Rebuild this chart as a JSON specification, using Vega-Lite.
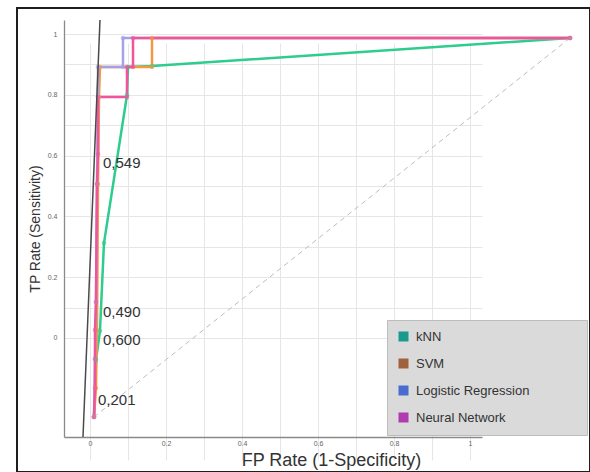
{
  "$schema": "https://vega.github.io/schema/vega-lite/v6.json",
  "width": 573,
  "height": 464,
  "autosize": {"type": "none"},
  "padding": {"left": 17, "top": 8, "right": 0, "bottom": 0},
  "background": "white",
  "config": {
    "view": {"stroke": "#1e1e1e", "strokeWidth": 2},
    "font": "Liberation Sans"
  },
  "datasets": {
    "curves": [
      {"model": "kNN", "i": 0, "fpr": 0.0105, "tpr": -0.2599},
      {"model": "kNN", "i": 1, "fpr": 0.0158, "tpr": -0.0724},
      {"model": "kNN", "i": 2, "fpr": 0.0263, "tpr": 0.023},
      {"model": "kNN", "i": 3, "fpr": 0.0368, "tpr": 0.3125},
      {"model": "kNN", "i": 4, "fpr": 0.0974, "tpr": 0.7993},
      {"model": "kNN", "i": 5, "fpr": 0.1, "tpr": 0.8914},
      {"model": "kNN", "i": 6, "fpr": 0.1632, "tpr": 0.8947},
      {"model": "kNN", "i": 7, "fpr": 1.2632, "tpr": 0.9868},
      {"model": "SVM", "i": 0, "fpr": 0.0105, "tpr": -0.2599},
      {"model": "SVM", "i": 1, "fpr": 0.0158, "tpr": -0.1645},
      {"model": "SVM", "i": 2, "fpr": 0.0184, "tpr": 0.0263},
      {"model": "SVM", "i": 3, "fpr": 0.0211, "tpr": 0.5066},
      {"model": "SVM", "i": 4, "fpr": 0.0237, "tpr": 0.7928},
      {"model": "SVM", "i": 5, "fpr": 0.0263, "tpr": 0.8914},
      {"model": "SVM", "i": 6, "fpr": 0.1632, "tpr": 0.8914},
      {"model": "SVM", "i": 7, "fpr": 0.1632, "tpr": 0.9868},
      {"model": "SVM", "i": 8, "fpr": 1.2632, "tpr": 0.9868},
      {"model": "Logistic Regression", "i": 0, "fpr": 0.0105, "tpr": -0.2599},
      {"model": "Logistic Regression", "i": 1, "fpr": 0.0132, "tpr": -0.0691},
      {"model": "Logistic Regression", "i": 2, "fpr": 0.0158, "tpr": 0.1184},
      {"model": "Logistic Regression", "i": 3, "fpr": 0.0184, "tpr": 0.5066},
      {"model": "Logistic Regression", "i": 4, "fpr": 0.0211, "tpr": 0.7928},
      {"model": "Logistic Regression", "i": 5, "fpr": 0.0211, "tpr": 0.8914},
      {"model": "Logistic Regression", "i": 6, "fpr": 0.0868, "tpr": 0.8914},
      {"model": "Logistic Regression", "i": 7, "fpr": 0.0868, "tpr": 0.9868},
      {"model": "Logistic Regression", "i": 8, "fpr": 1.2632, "tpr": 0.9868},
      {"model": "Neural Network", "i": 0, "fpr": 0.0105, "tpr": -0.2599},
      {"model": "Neural Network", "i": 1, "fpr": 0.0132, "tpr": -0.1645},
      {"model": "Neural Network", "i": 2, "fpr": 0.0132, "tpr": -0.0691},
      {"model": "Neural Network", "i": 3, "fpr": 0.0132, "tpr": 0.0263},
      {"model": "Neural Network", "i": 4, "fpr": 0.0158, "tpr": 0.1184},
      {"model": "Neural Network", "i": 5, "fpr": 0.0184, "tpr": 0.5066},
      {"model": "Neural Network", "i": 6, "fpr": 0.0211, "tpr": 0.6053},
      {"model": "Neural Network", "i": 7, "fpr": 0.0211, "tpr": 0.7928},
      {"model": "Neural Network", "i": 8, "fpr": 0.0974, "tpr": 0.7928},
      {"model": "Neural Network", "i": 9, "fpr": 0.0974, "tpr": 0.8914},
      {"model": "Neural Network", "i": 10, "fpr": 0.1132, "tpr": 0.8914},
      {"model": "Neural Network", "i": 11, "fpr": 0.1132, "tpr": 0.9868},
      {"model": "Neural Network", "i": 12, "fpr": 1.2632, "tpr": 0.9868}
    ],
    "diagonal": [
      {"fpr": 0.0105, "tpr": -0.2599},
      {"fpr": 1.2632, "tpr": 0.9868}
    ],
    "iso": [
      {"fpr": -0.0184, "tpr": -0.3257},
      {"fpr": 0.0263, "tpr": 1.0461}
    ],
    "thresholds": [
      {"fpr": 0.0342, "tpr": 0.5757, "label": "0,549"},
      {"fpr": 0.0342, "tpr": 0.0855, "label": "0,490"},
      {"fpr": 0.0342, "tpr": -0.0066, "label": "0,600"},
      {"fpr": 0.021, "tpr": -0.204, "label": "0,201"}
    ]
  },
  "encoding": {
    "x": {
      "field": "fpr",
      "type": "quantitative",
      "scale": {"domain": [-0.0684, 1.0316], "range": [47, 465], "nice": false, "zero": false},
      "axis": {
        "title": "FP Rate (1-Specificity)",
        "values": [0, 0.1, 0.2, 0.3, 0.4, 0.5, 0.6, 0.7, 0.8, 0.9, 1],
        "labelExpr": "round(datum.value*10) % 2 === 0 ? toString(round(datum.value*10)/10) : ''",
        "grid": true,
        "gridColor": "#e6e6e6",
        "gridWidth": 1,
        "ticks": false,
        "tickSize": 0,
        "domain": true,
        "domainColor": "#8a8a8a",
        "domainWidth": 1.3,
        "offset": -35,
        "labelFont": "Liberation Sans",
        "labelFontSize": 7,
        "labelColor": "#666666",
        "labelPadding": 2,
        "labelFlush": false,
        "labelOverlap": false,
        "titleFont": "Liberation Sans",
        "titleFontSize": 18,
        "titleFontWeight": "normal",
        "titleColor": "#333333",
        "titlePadding": 5,
        "titleX": 314
      }
    },
    "y": {
      "field": "tpr",
      "type": "quantitative",
      "scale": {"domain": [-0.3257, 1.0461], "range": [429, 12], "nice": false, "zero": false},
      "axis": {
        "title": "TP Rate (Sensitivity)",
        "values": [0, 0.1, 0.2, 0.3, 0.4, 0.5, 0.6, 0.7, 0.8, 0.9, 1],
        "labelExpr": "round(datum.value*10) % 2 === 0 ? toString(round(datum.value*10)/10) : ''",
        "grid": true,
        "gridColor": "#e6e6e6",
        "gridWidth": 1,
        "ticks": false,
        "tickSize": 0,
        "domain": true,
        "domainColor": "#8a8a8a",
        "domainWidth": 1.3,
        "offset": -47,
        "labelFont": "Liberation Sans",
        "labelFontSize": 7,
        "labelColor": "#666666",
        "labelPadding": 7,
        "labelFlush": false,
        "labelOverlap": false,
        "titleFont": "Liberation Sans",
        "titleFontSize": 14,
        "titleFontWeight": "normal",
        "titleColor": "#333333",
        "titlePadding": 5
      }
    }
  },
  "layer": [
    {
      "data": {"name": "diagonal"},
      "mark": {"type": "line", "color": "#bdbdbd", "strokeWidth": 1, "strokeDash": [5, 4]},
      "encoding": {}
    },
    {
      "data": {"name": "curves"},
      "mark": {"type": "point", "filled": true, "size": 22, "opacity": 0},
      "encoding": {
        "fill": {
          "field": "model",
          "type": "nominal",
          "scale": {
            "domain": ["kNN", "SVM", "Logistic Regression", "Neural Network"],
            "range": ["#1a9a8c", "#a0623c", "#4a6bd0", "#b03ab0"]
          },
          "legend": {
            "orient": "none",
            "legendX": 370,
            "legendY": 312,
            "title": null,
            "symbolType": "square",
            "symbolSize": 100,
            "symbolOpacity": 1,
            "symbolStrokeWidth": 0,
            "fillColor": "#dadada",
            "strokeColor": "#bcbcbc",
            "padding": 10,
            "rowPadding": 13,
            "labelOffset": 6,
            "labelFont": "Liberation Sans",
            "labelFontSize": 13,
            "labelColor": "#333333",
            "labelLimit": 400,
            "labelExpr": "datum.label === 'Logistic Regression' ? datum.label + '\u00a0\u00a0\u00a0\u00a0\u00a0\u00a0\u00a0\u00a0\u00a0\u00a0\u00a0\u00a0\u00a0\u200b' : datum.label"
          }
        }
      }
    },
    {
      "data": {"name": "curves"},
      "mark": {"type": "line", "strokeWidth": 2.5},
      "encoding": {
        "order": {"field": "i", "type": "quantitative"},
        "color": {
          "field": "model",
          "type": "nominal",
          "scale": {
            "domain": ["kNN", "SVM", "Logistic Regression", "Neural Network"],
            "range": ["#2ecc8e", "#f29a3f", "#a6a0e8", "#f0559c"]
          },
          "legend": null
        }
      }
    },
    {
      "data": {"name": "curves"},
      "mark": {"type": "point", "filled": true, "size": 22, "opacity": 0.6, "strokeWidth": 0},
      "encoding": {
        "color": {"field": "model", "type": "nominal", "legend": null}
      }
    },
    {
      "data": {"name": "iso"},
      "mark": {"type": "line", "color": "#4a4a4a", "strokeWidth": 1.5},
      "encoding": {}
    },
    {
      "data": {"name": "thresholds"},
      "mark": {"type": "text", "align": "left", "baseline": "middle", "fontSize": 15, "font": "Liberation Sans", "color": "#333333"},
      "encoding": {
        "text": {"field": "label", "type": "nominal"}
      }
    }
  ]
}
